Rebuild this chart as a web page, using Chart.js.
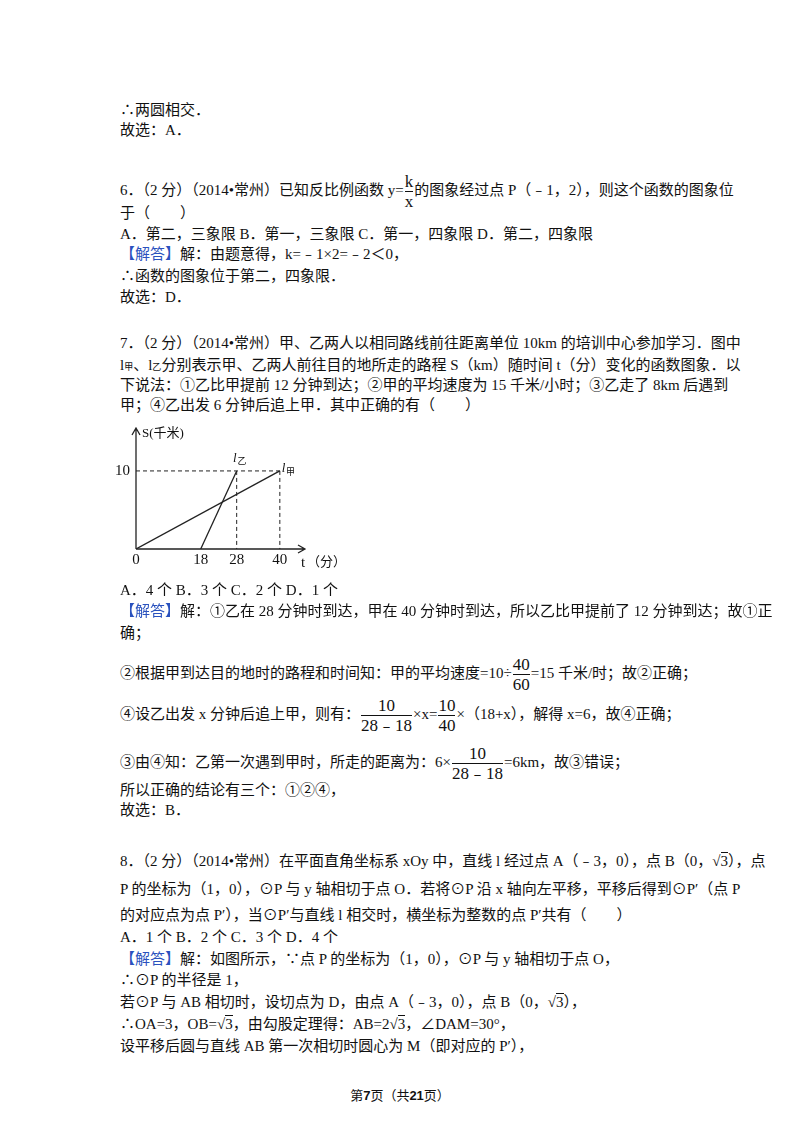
<!DOCTYPE html>
<html><head><meta charset="utf-8">
<script src="https://cdn.jsdelivr.net/npm/chart.js@4/dist/chart.umd.min.js"></script>
<style>
body{margin:0;width:800px;height:1132px;background:#fff;position:relative;font-family:"Liberation Serif","Noto Sans CJK SC",serif;font-size:15px;color:#111}
.l{position:absolute;left:120px;white-space:nowrap;line-height:20px}
.j{width:562px;text-align:justify;text-align-last:justify}
.b{color:#2a52be}
.fr{display:inline-block;vertical-align:middle;text-align:center;margin:0 1px;font-size:17px}
.fr span{display:block;line-height:19px}
.fr span+span{border-top:1px solid #111}
.sq{border-top:1px solid #111}
#wrap{position:absolute;left:100px;top:415px;width:250px;height:170px}
</style></head><body>
<div class="l" style="top:100px">∴两圆相交．</div>
<div class="l" style="top:120px">故选：A．</div>
<div class="l" style="top:172px">6．（2 分）（2014•常州）已知反比例函数 y=<span class="fr"><span>k</span><span>x</span></span>的图象经过点 P（﹣1，2），则这个函数的图象位</div>
<div class="l" style="top:203px">于（　　）</div>
<div class="l" style="top:224px">A．第二，三象限 B．第一，三象限 C．第一，四象限 D．第二，四象限</div>
<div class="l" style="top:244px"><span class="b">【解答】</span>解：由题意得，k=﹣1×2=﹣2＜0，</div>
<div class="l" style="top:266px">∴函数的图象位于第二，四象限．</div>
<div class="l" style="top:287px">故选：D．</div>
<div class="l j" style="top:333px">7．（2 分）（2014•常州）甲、乙两人以相同路线前往距离单位 10km 的培训中心参加学习．图中</div>
<div class="l j" style="top:355px">l<span style="font-size:9px">甲</span>、l<span style="font-size:9px">乙</span>分别表示甲、乙两人前往目的地所走的路程 S（km）随时间 t（分）变化的函数图象．以</div>
<div class="l j" style="top:375px">下说法：①乙比甲提前 12 分钟到达；②甲的平均速度为 15 千米/小时；③乙走了 8km 后遇到</div>
<div class="l" style="top:395px">甲；④乙出发 6 分钟后追上甲．其中正确的有（　　）</div>
<div id="wrap"><canvas id="c"></canvas></div>
<div class="l" style="top:580px">A．4 个 B．3 个 C．2 个 D．1 个</div>
<div class="l j" style="top:601px"><span class="b">【解答】</span>解：①乙在 28 分钟时到达，甲在 40 分钟时到达，所以乙比甲提前了 12 分钟到达；故①正</div>
<div class="l" style="top:623px">确；</div>
<div class="l" style="top:655px">②根据甲到达目的地时的路程和时间知：甲的平均速度=10÷<span class="fr"><span>40</span><span>60</span></span>=15 千米/时；故②正确；</div>
<div class="l" style="top:696px">④设乙出发 x 分钟后追上甲，则有：<span class="fr"><span>10</span><span>28﹣18</span></span>×x=<span class="fr"><span>10</span><span>40</span></span>×（18+x），解得 x=6，故④正确；</div>
<div class="l" style="top:744px">③由④知：乙第一次遇到甲时，所走的距离为：6×<span class="fr"><span>10</span><span>28﹣18</span></span>=6km，故③错误；</div>
<div class="l" style="top:780px">所以正确的结论有三个：①②④，</div>
<div class="l" style="top:800px">故选：B．</div>
<div class="l j" style="top:851px">8．（2 分）（2014•常州）在平面直角坐标系 xOy 中，直线 l 经过点 A（﹣3，0），点 B（0，√<span class="sq">3</span>），点</div>
<div class="l j" style="top:879px">P 的坐标为（1，0），⊙P 与 y 轴相切于点 O．若将⊙P 沿 x 轴向左平移，平移后得到⊙P′（点 P</div>
<div class="l" style="top:905px">的对应点为点 P′），当⊙P′与直线 l 相交时，横坐标为整数的点 P′共有（　　）</div>
<div class="l" style="top:927px">A．1 个 B．2 个 C．3 个 D．4 个</div>
<div class="l" style="top:949px"><span class="b">【解答】</span>解：如图所示，∵点 P 的坐标为（1，0），⊙P 与 y 轴相切于点 O，</div>
<div class="l" style="top:970px">∴⊙P 的半径是 1，</div>
<div class="l" style="top:992px">若⊙P 与 AB 相切时，设切点为 D，由点 A（﹣3，0），点 B（0，√<span class="sq">3</span>），</div>
<div class="l" style="top:1014px">∴OA=3，OB=√<span class="sq">3</span>，由勾股定理得：AB=2√<span class="sq">3</span>，∠DAM=30°，</div>
<div class="l" style="top:1036px">设平移后圆与直线 AB 第一次相切时圆心为 M（即对应的 P′），</div>
<div class="l" style="top:1086px;left:0;width:800px;text-align:center;font-size:13px">第<b style="font-family:'Liberation Sans'">7</b>页（共<b style="font-family:'Liberation Sans'">21</b>页）</div>
<script>
// 图中数据
const jiaT = [0, 40];
const jiaS = [0, 10];
const yiT = [18, 28];
const yiS = [0, 10];
const xTicks = [0, 18, 28, 40];
const yTicks = [10];

const axisPlugin = {
  id: 'axes',
  afterDraw(chart) {
    const { ctx, chartArea: a, scales: { x, y } } = chart;
    ctx.save();
    ctx.strokeStyle = '#222';
    ctx.lineWidth = 1.3;
    // 坐标轴与箭头
    ctx.beginPath();
    ctx.moveTo(a.left, a.bottom); ctx.lineTo(a.right, a.bottom);
    ctx.moveTo(a.left, a.bottom); ctx.lineTo(a.left, a.top);
    ctx.moveTo(a.right - 7, a.bottom - 4); ctx.lineTo(a.right, a.bottom); ctx.lineTo(a.right - 7, a.bottom + 4);
    ctx.moveTo(a.left - 4, a.top + 7); ctx.lineTo(a.left, a.top); ctx.lineTo(a.left + 4, a.top + 7);
    ctx.stroke();
    // 虚线
    ctx.setLineDash([4, 3]);
    ctx.lineWidth = 1;
    const y10 = y.getPixelForValue(10);
    ctx.beginPath();
    ctx.moveTo(a.left, y10); ctx.lineTo(x.getPixelForValue(40), y10);
    [28, 40].forEach(t => { ctx.moveTo(x.getPixelForValue(t), y10); ctx.lineTo(x.getPixelForValue(t), a.bottom); });
    ctx.stroke();
    ctx.setLineDash([]);
    // 刻度文字
    ctx.fillStyle = '#111';
    ctx.font = '15px "Liberation Serif", serif';
    ctx.textAlign = 'center'; ctx.textBaseline = 'top';
    xTicks.forEach(t => ctx.fillText(String(t), x.getPixelForValue(t), a.bottom + 4));
    ctx.textAlign = 'right'; ctx.textBaseline = 'middle';
    yTicks.forEach(v => ctx.fillText(String(v), a.left - 6, y.getPixelForValue(v)));
    ctx.textAlign = 'left';
    ctx.fillText('t', a.right - 4, a.bottom + 14);
    ctx.font = '13px "Liberation Serif", "Noto Sans CJK SC"';
    ctx.fillText('（分）', a.right + 2, a.bottom + 14);
    ctx.fillText('S(千米)', a.left + 6, a.top + 6);
    ctx.font = 'italic 13px "Liberation Serif", serif';
    ctx.fillText('l', x.getPixelForValue(27), y10 - 12);
    ctx.fillText('l', x.getPixelForValue(40.5), y10 - 2);
    ctx.font = '9px "Noto Sans CJK SC"';
    ctx.fillText('乙', x.getPixelForValue(28.2), y10 - 10);
    ctx.fillText('甲', x.getPixelForValue(41.7), y10 + 1);
    ctx.restore();
  }
};

new Chart(document.getElementById('c'), {
  type: 'line',
  data: {
    datasets: [
      { data: jiaT.map((t, i) => ({ x: t, y: jiaS[i] })) },
      { data: yiT.map((t, i) => ({ x: t, y: yiS[i] })) }
    ]
  },
  options: {
    responsive: true, maintainAspectRatio: false, animation: false,
    layout: { padding: { left: 36, right: 45, top: 13, bottom: 36 } },
    elements: { line: { borderColor: '#222', borderWidth: 1.3 }, point: { radius: 0 } },
    plugins: { legend: { display: false }, tooltip: { enabled: false } },
    scales: {
      x: { type: 'linear', min: 0, max: 47, display: false },
      y: { min: 0, max: 15.5, display: false }
    }
  },
  plugins: [axisPlugin]
});
</script>
</body></html>
